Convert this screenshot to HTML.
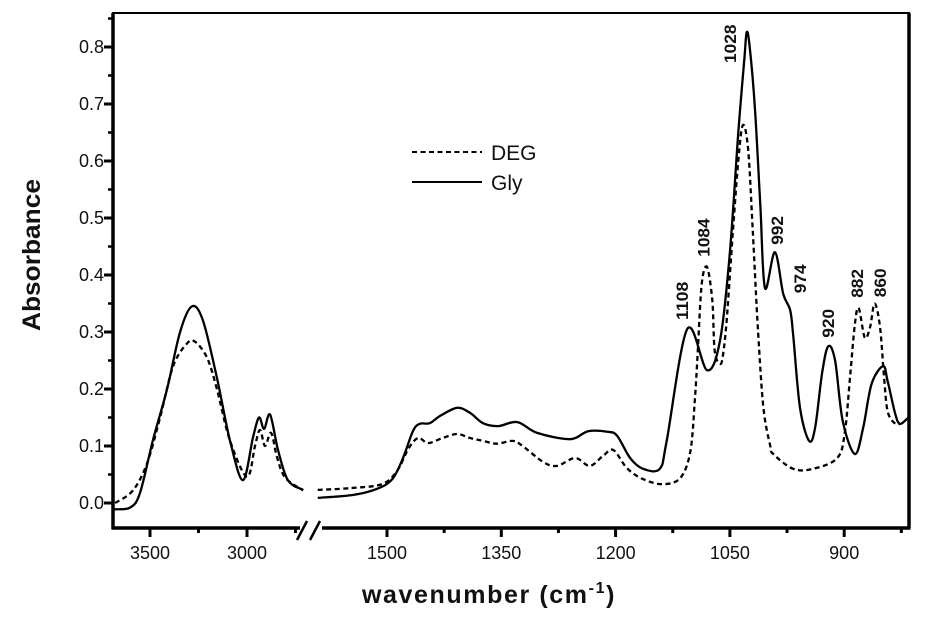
<!DOCTYPE html>
<html><head><meta charset="utf-8"><style>
html,body{margin:0;padding:0;background:#fff;}
svg{display:block;font-family:"Liberation Sans",Arial,sans-serif;}
</style></head><body>
<svg id="chart" width="944" height="619" viewBox="0 0 944 619" xmlns="http://www.w3.org/2000/svg">
<g id="plot"></g>
</svg>
<script>
// ---- data ----
const yTicks = [0.0,0.1,0.2,0.3,0.4,0.5,0.6,0.7,0.8];
const xTicksLeft = [3500,3000];
const xMinorLeft = [3250,2750];
const xTicksRight = [1500,1350,1200,1050,900];
const xMinorRight = [1425,1275,1125,975,825];
const glyLeftW = [3690,3680,3603,3552,3485,3412,3345,3284,3227,3155,3088,3021,2969,2938,2912,2881,2840,2789,2711];
const glyLeftV = [-0.012,-0.011,-0.008,0.017,0.11,0.2,0.30,0.345,0.32,0.22,0.11,0.04,0.115,0.15,0.13,0.155,0.093,0.04,0.023];
const degLeftW = [3680,3588,3515,3448,3381,3309,3268,3206,3155,3088,3000,2959,2933,2907,2876,2845,2804,2711];
const degLeftV = [0.0,0.022,0.07,0.15,0.24,0.28,0.283,0.255,0.2,0.11,0.046,0.1,0.128,0.1,0.123,0.08,0.045,0.022];
const glyRightW = [1591,1545,1513,1493,1479,1466,1457,1444,1430,1408,1391,1374,1354,1329,1303,1260,1236,1211,1198,1181,1164,1142,1133,1106,1080,1063,1050,1039,1031,1028,1024,1017,1010,1004,991,980,971,967,958,946,938,929,921,912,902,886,875,864,849,843,833,827,818,815];
const glyRightV = [0.009,0.014,0.025,0.042,0.079,0.126,0.139,0.14,0.153,0.167,0.158,0.14,0.135,0.142,0.123,0.112,0.126,0.125,0.118,0.079,0.06,0.06,0.109,0.305,0.233,0.285,0.44,0.65,0.78,0.826,0.80,0.69,0.52,0.377,0.44,0.367,0.339,0.296,0.167,0.109,0.133,0.228,0.275,0.25,0.144,0.086,0.133,0.209,0.24,0.214,0.156,0.139,0.147,0.15];
const degRightW = [1591,1549,1507,1487,1472,1459,1446,1427,1408,1391,1374,1356,1335,1322,1295,1277,1253,1234,1217,1203,1185,1164,1138,1115,1102,1096,1092,1087,1080,1073,1070,1063,1059,1054,1046,1039,1033,1026,1020,1013,1006,997,993,967,941,909,899,892,886,881,873,866,860,853,848,843,833,827];
const degRightV = [0.023,0.026,0.033,0.056,0.095,0.114,0.105,0.114,0.121,0.114,0.109,0.104,0.109,0.1,0.072,0.065,0.079,0.065,0.082,0.093,0.061,0.042,0.033,0.044,0.09,0.18,0.27,0.384,0.414,0.354,0.267,0.244,0.26,0.325,0.477,0.6,0.663,0.62,0.477,0.3,0.167,0.1,0.086,0.06,0.06,0.079,0.126,0.226,0.314,0.342,0.29,0.309,0.35,0.309,0.226,0.161,0.139,0.139];
const peakLabels = ["1108","1084","1028","992","974","920","882","860"];
const peakLabelW = [1109,1081,1046,984,954,917,879,849];
const peakLabelV = [0.321,0.432,0.772,0.453,0.368,0.29,0.36,0.361];

// ---- axes ----
const L=113, R=909, T=13, B=528;
function yPix(v){ return 503 - v*570; }
function xLeft(w){ return 150 + (3500-w)*0.194; }
function xRight(w){ return 387 + (1500-w)*0.762; }

const NS="http://www.w3.org/2000/svg";
const g=document.getElementById('plot');
function mk(tag,attrs,parent){const e=document.createElementNS(NS,tag);for(const k in attrs)e.setAttribute(k,attrs[k]);(parent||g).appendChild(e);return e;}

function smoothPath(pts){
  let d="M"+pts[0][0].toFixed(1)+","+pts[0][1].toFixed(1);
  for(let i=0;i<pts.length-1;i++){
    const p0=pts[Math.max(0,i-1)],p1=pts[i],p2=pts[i+1],p3=pts[Math.min(pts.length-1,i+2)];
    const c1x=p1[0]+(p2[0]-p0[0])/6,c1y=p1[1]+(p2[1]-p0[1])/6;
    const c2x=p2[0]-(p3[0]-p1[0])/6,c2y=p2[1]-(p3[1]-p1[1])/6;
    d+=" C"+c1x.toFixed(1)+","+c1y.toFixed(1)+" "+c2x.toFixed(1)+","+c2y.toFixed(1)+" "+p2[0].toFixed(1)+","+p2[1].toFixed(1);
  }
  return d;
}
function series(ws,vs,xf,name,dash){
  const pts=ws.map((w,i)=>[xf(w),yPix(vs[i])]);
  const p=mk('path',{d:smoothPath(pts),fill:'none',stroke:'#000','stroke-width':2.3,'stroke-dasharray':dash?'5,3.5':'none'});
  
  
}
series(degLeftW,degLeftV,xLeft,'deg-line-oh-region',true);
series(glyLeftW,glyLeftV,xLeft,'gly-line-oh-region',false);
series(degRightW,degRightV,xRight,'deg-line-fingerprint',true);
series(glyRightW,glyRightV,xRight,'gly-line-fingerprint',false);

// frame
const frame=mk('path',{d:`M${L},${T} H${R} V${B} H${L} Z`,fill:'none',stroke:'#000','stroke-width':2});


const yAx=mk('line',{x1:L,y1:T,x2:L,y2:B+1.5,stroke:'#000','stroke-width':3.5});


const xAx=mk('line',{x1:L-1,y1:B,x2:R+1.5,y2:B,stroke:'#000','stroke-width':3.5});


const rAx=mk('line',{x1:R,y1:T,x2:R,y2:B,stroke:'#000','stroke-width':3.5});



// y ticks
yTicks.forEach(v=>{
  const y=yPix(v);
  mk('line',{x1:L-9,y1:y,x2:L,y2:y,stroke:'#000','stroke-width':3});
  const t=mk('text',{x:104,y:y+6,'text-anchor':'end','font-size':18,fill:'#111'});
  t.textContent=v.toFixed(1);
  
  
  const ym=yPix(v+0.05);
  mk('line',{x1:L-5,y1:ym,x2:L,y2:ym,stroke:'#000','stroke-width':2.5});
});
// x ticks
function xt(arr,xf,len,label){
  arr.forEach(w=>{
    const x=xf(w);
    mk('line',{x1:x,y1:B,x2:x,y2:B+len,stroke:'#000','stroke-width':3});
    if(label){
      const t=mk('text',{x:x,y:B+31,'text-anchor':'middle','font-size':18,fill:'#111'});
      t.textContent=String(w);
      
      
    }
  });
}
xt(xTicksLeft,xLeft,9,true);xt(xMinorLeft,xLeft,5,false);
xt(xTicksRight,xRight,9,true);xt(xMinorRight,xRight,5,false);

// break marks
mk('rect',{x:300,y:B-3,width:22,height:7,fill:'#fff'});
mk('line',{x1:297,y1:540,x2:307,y2:521,stroke:'#000','stroke-width':2.5});
mk('line',{x1:310,y1:540,x2:320,y2:521,stroke:'#000','stroke-width':2.5});

// peak labels
peakLabels.forEach((s,i)=>{
  const x=xRight(peakLabelW[i]), y=yPix(peakLabelV[i]);
  const t=mk('text',{x:0,y:0,transform:`translate(${x+3},${y}) rotate(-90)`,'font-size':17,'font-weight':'bold',fill:'#111',textLength:s.length*9.6,lengthAdjust:'spacingAndGlyphs'});
  t.textContent=s;
  
  
});

// titles
const yt=mk('text',{x:0,y:0,transform:'translate(40,255) rotate(-90)','text-anchor':'middle','font-size':25,'font-weight':'bold',fill:'#111',textLength:152,lengthAdjust:'spacingAndGlyphs'});
yt.textContent='Absorbance';


const xtt=mk('text',{x:362,y:603,'font-size':25,'font-weight':'bold',fill:'#111','letter-spacing':'1.6'});
xtt.innerHTML='wavenumber (cm<tspan dy="-10" font-size="16">-1</tspan><tspan dy="10">)</tspan>';



// legend
const lg=mk('g',{});


mk('line',{x1:412,y1:152,x2:482,y2:152,stroke:'#000','stroke-width':2,'stroke-dasharray':'5,3.5'},lg);
mk('line',{x1:412,y1:182,x2:482,y2:182,stroke:'#000','stroke-width':2},lg);
const l1=mk('text',{x:491,y:160,'font-size':21,fill:'#111'},lg);l1.textContent='DEG';


const l2=mk('text',{x:491,y:190,'font-size':21,fill:'#111'},lg);l2.textContent='Gly';


</script>
</body></html>
